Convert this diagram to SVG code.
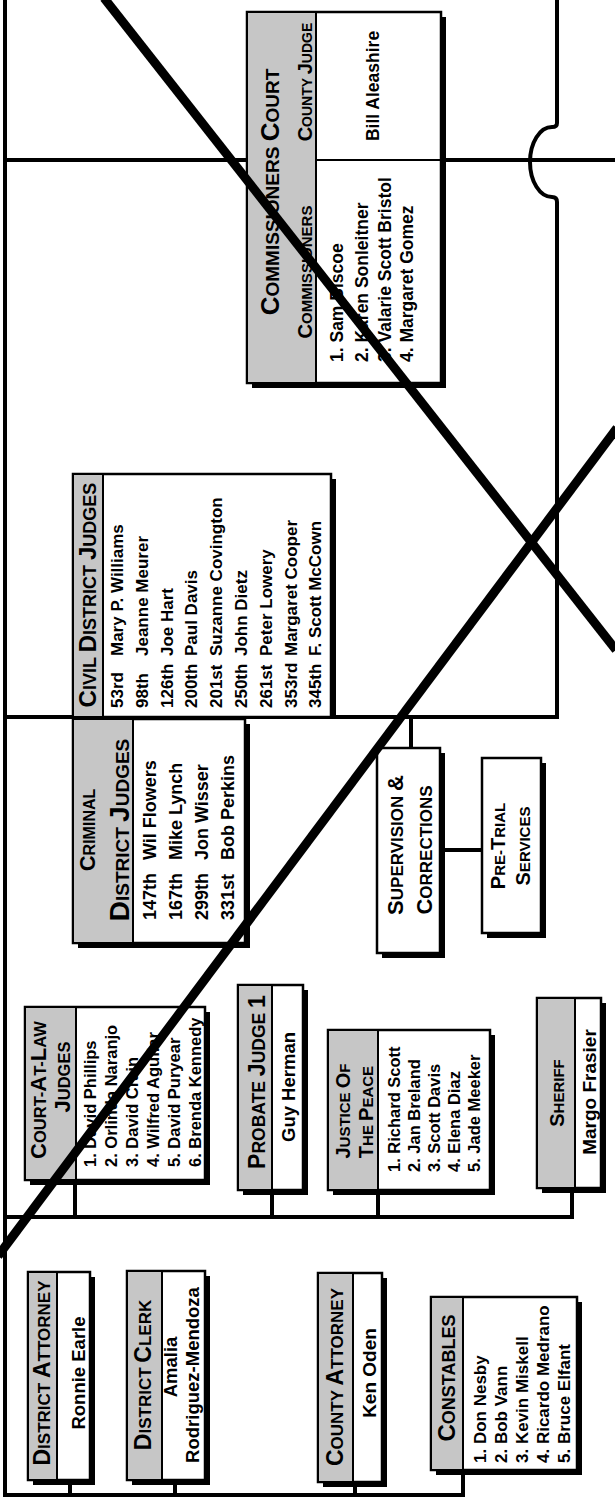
<svg xmlns="http://www.w3.org/2000/svg" width="615" height="1501" viewBox="0 0 615 1501">
<style>
text{font-family:"Liberation Sans",Arial,Helvetica,sans-serif;font-weight:bold;fill:#000}
.ln{stroke:#000;stroke-width:4;fill:none}
.box{fill:#fff;stroke:#000;stroke-width:2.5}
.sh{fill:#000}
.hdr{fill:#c6c6c6;stroke:#000;stroke-width:2}
.dv{stroke:#000;stroke-width:2}
.x{stroke:#000;stroke-width:9;fill:none}
</style>
<defs>
<clipPath id="clipConst"><rect x="463" y="1299" width="113" height="169"/></clipPath>
</defs>
<rect width="615" height="1501" fill="#fff"/>
<g id="connectors">
<line class="ln" x1="5" y1="0" x2="5" y2="1497"/>
<line class="ln" x1="3" y1="1495" x2="465" y2="1495"/>
<line class="ln" x1="70" y1="1480" x2="70" y2="1495"/>
<line class="ln" x1="175" y1="1480" x2="175" y2="1495"/>
<line class="ln" x1="355" y1="1482" x2="355" y2="1495"/>
<line class="ln" x1="463" y1="1470" x2="463" y2="1497"/>
<line class="ln" x1="3" y1="1217" x2="574" y2="1217"/>
<line class="ln" x1="75" y1="1180" x2="75" y2="1217"/>
<line class="ln" x1="272" y1="1190" x2="272" y2="1217"/>
<line class="ln" x1="378" y1="1190" x2="378" y2="1217"/>
<line class="ln" x1="572" y1="1188" x2="572" y2="1219"/>
<line class="ln" x1="3" y1="717" x2="559" y2="717"/>
<line class="ln" x1="3" y1="160" x2="615" y2="160"/>
<path class="ln" d="M557,0 V123 Q557,127 552,127 A22 35 0 0 0 552,197 Q557,197 557,202 V719"/>
<line class="ln" x1="411" y1="717" x2="411" y2="748"/>
<line class="ln" x1="440" y1="850" x2="482" y2="850"/>
</g>
<g id="commissioners-court">
<rect class="sh" x="252" y="17" width="194" height="371"/>
<rect class="box" x="247" y="12" width="194" height="371"/>
<rect class="hdr" x="247" y="12" width="69" height="371"/>
<line class="dv" x1="316" y1="160" x2="441" y2="160"/>
<text transform="translate(279,192) rotate(-90)" text-anchor="middle" font-size="19"><tspan font-size="26">C</tspan>OMMISSIONERS <tspan font-size="26">C</tspan>OURT</text>
<text transform="translate(312,82) rotate(-90)" text-anchor="middle" font-size="14"><tspan font-size="20">C</tspan>OUNTY <tspan font-size="20">J</tspan>UDGE</text>
<text transform="translate(312,272) rotate(-90)" text-anchor="middle" font-size="15"><tspan font-size="20">C</tspan>OMMISSIONERS</text>
<text transform="translate(379,86) rotate(-90)" text-anchor="middle" font-size="17.5">Bill Aleashire</text>
<text transform="translate(343,362) rotate(-90)" font-size="17.5">1. Sam Biscoe</text>
<text transform="translate(368,362) rotate(-90)" font-size="17.5">2. Karen Sonleitner</text>
<text transform="translate(391,362) rotate(-90)" font-size="17.5">3. Valarie Scott Bristol</text>
<text transform="translate(413,362) rotate(-90)" font-size="17.5">4. Margaret Gomez</text>
</g>
<g id="civil-district-judges">
<rect class="sh" x="78" y="479" width="258" height="238"/>
<rect class="box" x="73" y="474" width="258" height="243"/>
<rect class="hdr" x="73" y="474" width="30" height="243"/>
<text transform="translate(96,595) rotate(-90)" text-anchor="middle" font-size="18"><tspan font-size="24">C</tspan>IVIL <tspan font-size="24">D</tspan>ISTRICT <tspan font-size="24">J</tspan>UDGES</text>
<g font-size="17">
<text transform="translate(123,708) rotate(-90)">53rd</text><text transform="translate(123,656) rotate(-90)">Mary P. Williams</text>
<text transform="translate(148,708) rotate(-90)">98th</text><text transform="translate(148,656) rotate(-90)">Jeanne Meurer</text>
<text transform="translate(173,708) rotate(-90)">126th</text><text transform="translate(173,656) rotate(-90)">Joe Hart</text>
<text transform="translate(197,708) rotate(-90)">200th</text><text transform="translate(197,656) rotate(-90)">Paul Davis</text>
<text transform="translate(222,708) rotate(-90)">201st</text><text transform="translate(222,656) rotate(-90)">Suzanne Covington</text>
<text transform="translate(247,708) rotate(-90)">250th</text><text transform="translate(247,656) rotate(-90)">John Dietz</text>
<text transform="translate(272,708) rotate(-90)">261st</text><text transform="translate(272,656) rotate(-90)">Peter Lowery</text>
<text transform="translate(297,708) rotate(-90)">353rd</text><text transform="translate(297,656) rotate(-90)">Margaret Cooper</text>
<text transform="translate(321,708) rotate(-90)">345th</text><text transform="translate(321,656) rotate(-90)">F. Scott McCown</text>
</g>
</g>
<g id="criminal-district-judges">
<rect class="sh" x="78" y="724" width="172" height="224"/>
<rect class="box" x="73" y="719" width="172" height="224"/>
<rect class="hdr" x="73" y="719" width="60" height="224"/>
<text transform="translate(95,830) rotate(-90)" text-anchor="middle" font-size="16"><tspan font-size="22">C</tspan>RIMINAL</text>
<text transform="translate(129,830) rotate(-90)" text-anchor="middle" font-size="19"><tspan font-size="28">D</tspan>ISTRICT <tspan font-size="28">J</tspan>UDGES</text>
<g font-size="18">
<text transform="translate(155.5,920) rotate(-90)">147th</text><text transform="translate(155.5,860) rotate(-90)">Wil Flowers</text>
<text transform="translate(181.5,920) rotate(-90)">167th</text><text transform="translate(181.5,860) rotate(-90)">Mike Lynch</text>
<text transform="translate(207.5,920) rotate(-90)">299th</text><text transform="translate(207.5,860) rotate(-90)">Jon Wisser</text>
<text transform="translate(233.5,920) rotate(-90)">331st</text><text transform="translate(233.5,860) rotate(-90)">Bob Perkins</text>
</g>
</g>
<g id="supervision-corrections">
<rect class="sh" x="382" y="753" width="63" height="205"/>
<rect class="box" x="377" y="748" width="63" height="205"/>
<text transform="translate(403,845) rotate(-90)" text-anchor="middle" font-size="17"><tspan font-size="22">S</tspan>UPERVISION <tspan font-size="22">&amp;</tspan></text>
<text transform="translate(432,850) rotate(-90)" text-anchor="middle" font-size="17"><tspan font-size="22">C</tspan>ORRECTIONS</text>
</g>
<g id="pre-trial-services">
<rect class="sh" x="487" y="763" width="59" height="175"/>
<rect class="box" x="482" y="758" width="59" height="175"/>
<text transform="translate(505,846) rotate(-90)" text-anchor="middle" font-size="15"><tspan font-size="20">P</tspan>RE-<tspan font-size="20">T</tspan>RIAL</text>
<text transform="translate(530,846) rotate(-90)" text-anchor="middle" font-size="15"><tspan font-size="20">S</tspan>ERVICES</text>
</g>
<g id="court-at-law-judges">
<rect class="sh" x="30" y="1012" width="180" height="173"/>
<rect class="box" x="25" y="1007" width="180" height="173"/>
<rect class="hdr" x="25" y="1007" width="51" height="173"/>
<text transform="translate(46,1090) rotate(-90)" text-anchor="middle" font-size="16.5"><tspan font-size="22">C</tspan>OURT-<tspan font-size="22">A</tspan>T-<tspan font-size="22">L</tspan>AW</text>
<text transform="translate(70,1077) rotate(-90)" text-anchor="middle" font-size="16.5"><tspan font-size="22">J</tspan>UDGES</text>
<g font-size="16.5">
<text transform="translate(96,1167) rotate(-90)">1. David Phillips</text>
<text transform="translate(117,1167) rotate(-90)">2. Orlinda Naranjo</text>
<text transform="translate(138,1167) rotate(-90)">3. David Crain</text>
<text transform="translate(159,1167) rotate(-90)">4. Wilfred Aguilar</text>
<text transform="translate(180,1167) rotate(-90)">5. David Puryear</text>
<text transform="translate(201,1167) rotate(-90)">6. Brenda Kennedy</text>
</g>
</g>
<g id="probate-judge-1">
<rect class="sh" x="243" y="990" width="65" height="205"/>
<rect class="box" x="238" y="985" width="65" height="205"/>
<rect class="hdr" x="238" y="985" width="34" height="205"/>
<text transform="translate(265,1082) rotate(-90)" text-anchor="middle" font-size="17.5"><tspan font-size="23">P</tspan>ROBATE <tspan font-size="23">J</tspan>UDGE <tspan font-size="23">1</tspan></text>
<text transform="translate(295,1087) rotate(-90)" text-anchor="middle" font-size="18.5">Guy Herman</text>
</g>
<g id="justice-of-the-peace">
<rect class="sh" x="333" y="1035" width="162" height="160"/>
<rect class="box" x="328" y="1030" width="162" height="160"/>
<rect class="hdr" x="328" y="1030" width="50" height="160"/>
<text transform="translate(350,1111) rotate(-90)" text-anchor="middle" font-size="15"><tspan font-size="20">J</tspan>USTICE <tspan font-size="20">O</tspan>F</text>
<text transform="translate(373,1112) rotate(-90)" text-anchor="middle" font-size="15"><tspan font-size="20">T</tspan>HE <tspan font-size="20">P</tspan>EACE</text>
<g font-size="16.5">
<text transform="translate(400,1172) rotate(-90)">1. Richard Scott</text>
<text transform="translate(420,1172) rotate(-90)">2. Jan Breland</text>
<text transform="translate(440,1172) rotate(-90)">3. Scott Davis</text>
<text transform="translate(460,1172) rotate(-90)">4. Elena Diaz</text>
<text transform="translate(480,1172) rotate(-90)">5. Jade Meeker</text>
</g>
</g>
<g id="sheriff">
<rect class="sh" x="542" y="1003" width="64" height="190"/>
<rect class="box" x="537" y="998" width="64" height="190"/>
<rect class="hdr" x="537" y="998" width="38" height="190"/>
<text transform="translate(564,1093) rotate(-90)" text-anchor="middle" font-size="15"><tspan font-size="20">S</tspan>HERIFF</text>
<text transform="translate(596,1092) rotate(-90)" text-anchor="middle" font-size="19">Margo Frasier</text>
</g>
<g id="district-attorney">
<rect class="sh" x="33" y="1277" width="62" height="208"/>
<rect class="box" x="28" y="1272" width="62" height="208"/>
<rect class="hdr" x="28" y="1272" width="29" height="208"/>
<text transform="translate(50,1373) rotate(-90)" text-anchor="middle" font-size="17"><tspan font-size="23">D</tspan>ISTRICT <tspan font-size="23">A</tspan>TTORNEY</text>
<text transform="translate(85,1373) rotate(-90)" text-anchor="middle" font-size="18.5">Ronnie Earle</text>
</g>
<g id="district-clerk">
<rect class="sh" x="132" y="1276" width="78" height="209"/>
<rect class="box" x="127" y="1271" width="78" height="209"/>
<rect class="hdr" x="127" y="1271" width="35" height="209"/>
<text transform="translate(151,1375) rotate(-90)" text-anchor="middle" font-size="17"><tspan font-size="23">D</tspan>ISTRICT <tspan font-size="23">C</tspan>LERK</text>
<text transform="translate(177,1367) rotate(-90)" text-anchor="middle" font-size="18.5">Amalia</text>
<text transform="translate(199,1375) rotate(-90)" text-anchor="middle" font-size="18.5">Rodriguez-Mendoza</text>
</g>
<g id="county-attorney">
<rect class="sh" x="323" y="1278" width="64" height="209"/>
<rect class="box" x="318" y="1273" width="64" height="209"/>
<rect class="hdr" x="318" y="1273" width="35" height="209"/>
<text transform="translate(343,1377) rotate(-90)" text-anchor="middle" font-size="17"><tspan font-size="23">C</tspan>OUNTY <tspan font-size="23">A</tspan>TTORNEY</text>
<text transform="translate(376,1373) rotate(-90)" text-anchor="middle" font-size="19">Ken Oden</text>
</g>
<g id="constables">
<rect class="sh" x="436" y="1302" width="146" height="173"/>
<rect class="box" x="431" y="1297" width="146" height="173"/>
<rect class="hdr" x="431" y="1297" width="32" height="173"/>
<text transform="translate(455,1378) rotate(-90)" text-anchor="middle" font-size="18"><tspan font-size="24">C</tspan>ONSTABLES</text>
<g font-size="17" clip-path="url(#clipConst)">
<text transform="translate(486,1463) rotate(-90)">1. Don Nesby</text>
<text transform="translate(507,1463) rotate(-90)">2. Bob Vann</text>
<text transform="translate(528,1463) rotate(-90)">3. Kevin Miskell</text>
<text transform="translate(549,1463) rotate(-90)">4. Ricardo Medrano</text>
<text transform="translate(570,1463) rotate(-90)">5. Bruce Elfant</text>
</g>
</g>
<g id="cross-out">
<line class="x" x1="104" y1="-2" x2="616" y2="650"/>
<line class="x" x1="-2" y1="1256" x2="617" y2="428"/>
</g>
</svg>
